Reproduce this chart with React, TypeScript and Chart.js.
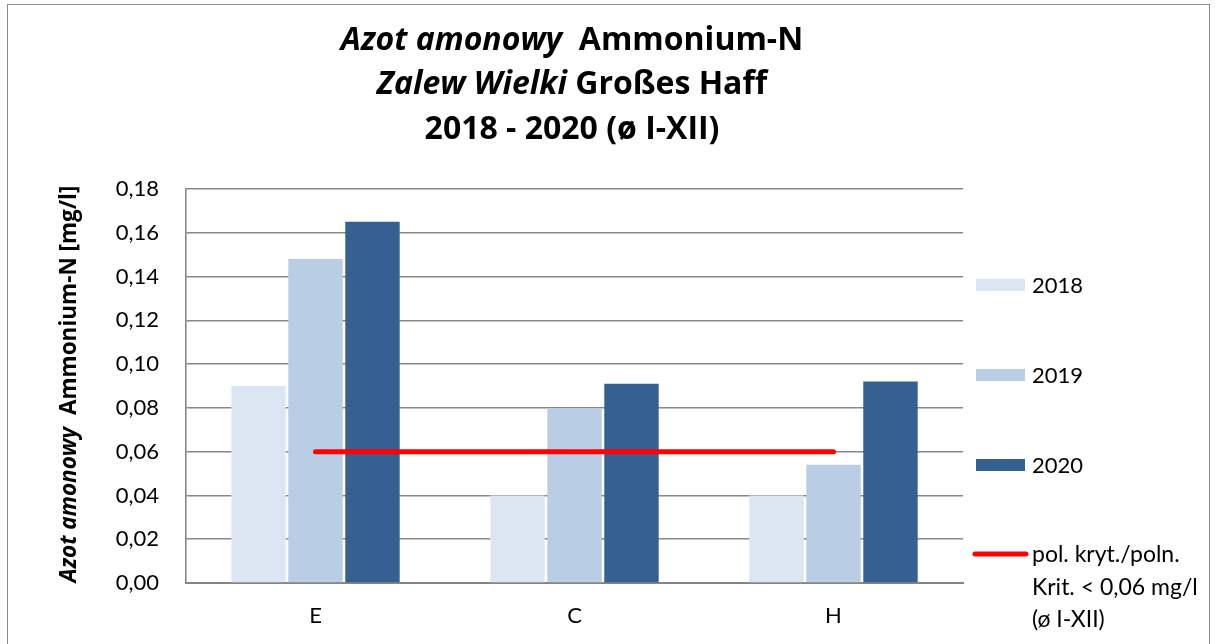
import React, { useEffect, useRef } from 'react';
import { Chart, registerables } from 'chart.js';

Chart.register(...registerables);

const categories = ['E', 'C', 'H'];
const seriesLabels = ['2018', '2019', '2020'];
const values2018 = [0.09, 0.04, 0.04];
const values2019 = [0.148, 0.08, 0.054];
const values2020 = [0.165, 0.091, 0.092];
const criterionValues = [0.06, 0.06, 0.06];
const criterionLabel = ['pol. kryt./poln.', 'Krit. < 0,06 mg/l', '(ø I-XII)'];
const seriesColors = ['#DCE6F2', '#B9CDE5', '#376092'];
const criterionColor = '#FF0000';
const yMin = 0;
const yMax = 0.18;
const yStep = 0.02;

type Seg = { t: string; i: boolean };
const titleLines: Seg[][] = [
  [{ t: 'Azot amonowy', i: true }, { t: '  Ammonium-N', i: false }],
  [{ t: 'Zalew Wielki', i: true }, { t: ' Großes Haff', i: false }],
  [{ t: '2018 - 2020 (ø I-XII)', i: false }],
];
const yTitle: Seg[] = [
  { t: 'Azot amonowy', i: true },
  { t: '  Ammonium-N [mg/l]', i: false },
];

const FONT = 'Lato, "Open Sans", sans-serif';
const TITLE_FONT = '"Open Sans", Lato, sans-serif';

function drawSegs(ctx: CanvasRenderingContext2D, segs: Seg[], cx: number, cy: number, size: number, family: string) {
  const fontFor = (s: Seg) => `${s.i ? 'italic ' : ''}bold ${size}px ${family}`;
  let total = 0;
  const widths = segs.map((s) => {
    ctx.font = fontFor(s);
    const w = ctx.measureText(s.t).width;
    total += w;
    return w;
  });
  let x = cx - total / 2;
  ctx.textAlign = 'left';
  ctx.textBaseline = 'alphabetic';
  segs.forEach((s, k) => {
    ctx.font = fontFor(s);
    ctx.fillText(s.t, x, cy);
    x += widths[k];
  });
}

const decorPlugin = {
  id: 'decor',
  beforeDraw(chart: any) {
    const ctx = chart.ctx as CanvasRenderingContext2D;
    ctx.save();
    ctx.fillStyle = '#FFFFFF';
    ctx.fillRect(0, 0, chart.width, chart.height);
    ctx.strokeStyle = '#898989';
    ctx.lineWidth = 1;
    ctx.strokeRect(7.5, 4.5, chart.width - 16, chart.height + 10);
    ctx.restore();
  },
  afterDraw(chart: any) {
    const ctx = chart.ctx as CanvasRenderingContext2D;
    const area = chart.chartArea;
    ctx.save();
    ctx.fillStyle = '#000000';
    // title
    const tcx = 572;
    const baselines = [50, 94, 139];
    titleLines.forEach((line, k) => drawSegs(ctx, line, tcx, baselines[k], 32, TITLE_FONT));
    // y axis title
    ctx.save();
    ctx.translate(76, (area.top + area.bottom) / 2 - 2);
    ctx.rotate(-Math.PI / 2);
    drawSegs(ctx, yTitle, 0, 0, 22.5, TITLE_FONT);
    ctx.restore();
    // legend
    const ds = chart.data.datasets;
    const rowsY = [285, 375, 465];
    ctx.font = `22px ${FONT}`;
    ctx.textAlign = 'left';
    ctx.textBaseline = 'middle';
    for (let k = 0; k < 3; k++) {
      ctx.fillStyle = ds[k].backgroundColor;
      ctx.fillRect(976, rowsY[k] - 6, 49, 12);
      ctx.fillStyle = '#000000';
      ctx.fillText(ds[k].label, 1032, rowsY[k] + 1);
    }
    const ly = 554;
    ctx.strokeStyle = ds[3].borderColor;
    ctx.lineWidth = 5;
    ctx.lineCap = 'round';
    ctx.beginPath();
    ctx.moveTo(975, ly);
    ctx.lineTo(1026, ly);
    ctx.stroke();
    ctx.fillStyle = '#000000';
    ctx.font = `23px ${FONT}`;
    criterionLabel.forEach((s, k) => ctx.fillText(s, 1032, ly + 1 + k * 32.5));
    ctx.restore();
  },
};

export default function App() {
  const ref = useRef<HTMLCanvasElement | null>(null);
  useEffect(() => {
    if (!ref.current) return;
    const chart = new Chart(ref.current, {
      type: 'bar',
      data: {
        labels: categories,
        datasets: [
          { label: seriesLabels[0], data: values2018, backgroundColor: seriesColors[0], order: 1, categoryPercentage: 0.66, barPercentage: 0.955 } as any,
          { label: seriesLabels[1], data: values2019, backgroundColor: seriesColors[1], order: 1, categoryPercentage: 0.66, barPercentage: 0.955 } as any,
          { label: seriesLabels[2], data: values2020, backgroundColor: seriesColors[2], order: 1, categoryPercentage: 0.66, barPercentage: 0.955 } as any,
          {
            type: 'line',
            label: criterionLabel.join(' '),
            data: criterionValues,
            borderColor: criterionColor,
            backgroundColor: criterionColor,
            borderWidth: 5,
            borderCapStyle: 'round',
            pointRadius: 0,
            fill: false,
            order: 0,
          } as any,
        ],
      },
      options: {
        animation: false,
        responsive: false,
        maintainAspectRatio: false,
        layout: { padding: { left: 0, top: 189, right: 255, bottom: 0 } },
        plugins: {
          legend: { display: false },
          title: { display: false },
          tooltip: { enabled: false },
        },
        scales: {
          x: {
            grid: { display: false, drawTicks: false },
            border: { display: true, color: '#858585', width: 2 },
            ticks: { color: '#000000', font: { family: FONT, size: 22 }, padding: 20 },
            afterFit: (s: any) => { s.height = 644 - 583; },
          },
          y: {
            min: yMin,
            max: yMax,
            grid: { color: '#878787', lineWidth: 1.6, drawTicks: false },
            border: { display: true, color: '#878787', width: 1.6 },
            ticks: {
              stepSize: yStep,
              color: '#000000',
              font: { family: FONT, size: 22 },
              padding: 27,
              callback: (v: any) => Number(v).toFixed(2).replace('.', ','),
            },
            afterFit: (s: any) => { s.width = 186; },
          },
        },
      } as any,
      plugins: [decorPlugin],
    });
    return () => chart.destroy();
  }, []);
  return (
    <div style={{ position: 'absolute', left: 0, top: 0, width: 1218, height: 644 }}>
      <canvas ref={ref} width={1218} height={644} style={{ display: 'block', width: 1218, height: 644 }} />
    </div>
  );
}
